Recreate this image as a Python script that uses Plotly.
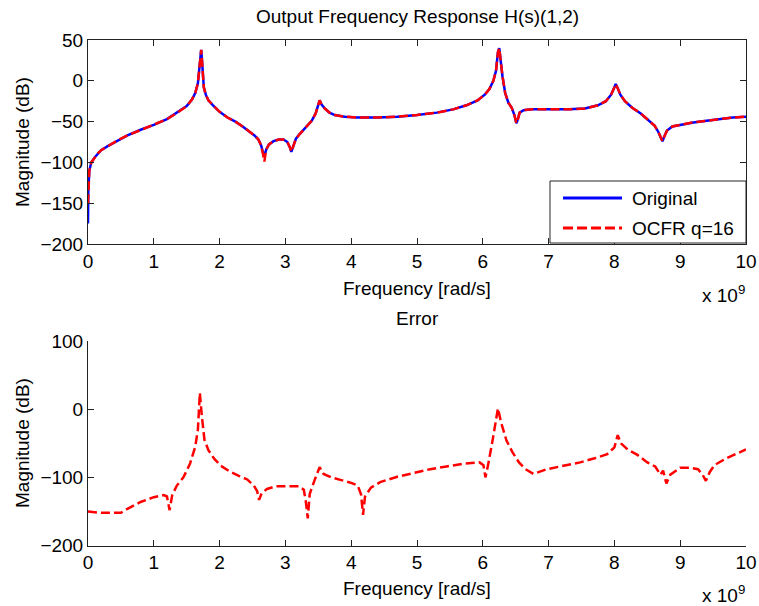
import plotly.graph_objects as go

W, H = 759, 606
FONT = "Liberation Sans, Arial, sans-serif"
FS = 19

# ---- data (frequency in units of 1e9 rad/s, magnitude in dB) ----
freq = [0.0, 0.005, 0.02, 0.05, 0.1, 0.15, 0.2, 0.3, 0.45, 0.6, 0.8, 1.0, 1.2, 1.36, 1.5,
        1.58, 1.63, 1.67, 1.695, 1.71, 1.72, 1.73, 1.745, 1.76, 1.79, 1.83, 1.9, 2.0, 2.12,
        2.24, 2.35, 2.45, 2.53, 2.59, 2.63, 2.66, 2.68, 2.71, 2.75, 2.82, 2.9, 2.97, 3.03,
        3.07, 3.09, 3.12, 3.16, 3.22, 3.31, 3.4, 3.46, 3.5, 3.52, 3.55, 3.6, 3.67, 3.75,
        3.9, 4.1, 4.4, 4.7, 5.0, 5.3, 5.55, 5.75, 5.92, 6.03, 6.1, 6.16, 6.2, 6.23, 6.25,
        6.27, 6.3, 6.34, 6.39, 6.44, 6.48, 6.51, 6.53, 6.56, 6.62, 6.75, 7.0, 7.3, 7.55,
        7.75, 7.87, 7.95, 8.0, 8.02, 8.05, 8.09, 8.16, 8.27, 8.4, 8.52, 8.61, 8.67, 8.71,
        8.73, 8.76, 8.8, 8.88, 9.0, 9.2, 9.4, 9.6, 9.8, 10.0]

original_db = [-175, -135, -110, -100, -94, -89, -85, -80, -73, -67, -60, -54, -47, -39, -31,
               -23, -15, -3, 15, 33, 38, 28, 5, -8, -17, -24, -30, -38, -45,
               -50, -56, -62, -67, -72, -79, -88, -92, -84, -78, -74, -72, -72, -75,
               -82, -87, -80, -71, -65, -57, -49, -40, -28, -24, -29, -34, -39, -42,
               -44, -45, -45, -44, -42, -39, -35, -30, -24, -17, -10, 0, 12, 35, 40,
               25, 5, -15, -27, -33, -42, -52, -48, -39, -36, -35, -35, -35, -34,
               -30, -25, -17, -8, -4, -9, -17, -25, -33, -40, -48, -55, -63, -70,
               -74, -68, -61, -56, -54, -51, -49, -47, -45, -44]

ocfr_db = [-150, -128, -110, -100, -94, -89, -85, -80, -73, -67, -60, -54, -47, -39, -31,
           -23, -15, -3, 15, 33, 38, 28, 5, -8, -17, -24, -30, -38, -45,
           -50, -56, -62, -67, -72, -79, -90, -99, -84, -78, -74, -72, -72, -75,
           -82, -87, -80, -71, -65, -57, -49, -40, -28, -24, -29, -34, -39, -42,
           -44, -45, -45, -44, -42, -39, -35, -30, -24, -17, -10, 0, 12, 35, 40,
           25, 5, -15, -27, -33, -42, -52, -48, -39, -36, -35, -35, -35, -34,
           -30, -25, -17, -8, -4, -9, -17, -25, -33, -40, -48, -55, -63, -70,
           -74, -68, -61, -56, -54, -51, -49, -47, -45, -44]

err_freq = [0.0, 0.2, 0.5, 0.6, 0.8, 1.0, 1.15, 1.2, 1.24, 1.28, 1.35, 1.45, 1.55, 1.63,
            1.67, 1.7, 1.73, 1.77, 1.83, 1.92, 2.02, 2.15, 2.3, 2.42, 2.52, 2.57, 2.6, 2.64,
            2.72, 2.85, 3.0, 3.2, 3.28, 3.31, 3.34, 3.37, 3.44, 3.52, 3.58, 3.7, 3.85, 4.0,
            4.1, 4.15, 4.18, 4.21, 4.3, 4.44, 4.7, 4.95, 5.2, 5.45, 5.7, 5.95, 6.01, 6.04,
            6.08, 6.15, 6.2, 6.23, 6.28, 6.36, 6.45, 6.55, 6.65, 6.77, 6.97, 7.2, 7.48, 7.7,
            7.89, 8.0, 8.05, 8.1, 8.2, 8.35, 8.5, 8.62, 8.7, 8.74, 8.79, 8.85, 9.0, 9.15,
            9.27, 9.34, 9.39, 9.45, 9.52, 9.7, 9.85, 10.0]

err_db = [-150, -152, -152, -146, -136, -129, -126, -128, -148, -126, -112, -100, -80, -55,
          -30, 24, -10, -45, -60, -73, -83, -91, -98, -103, -112, -120, -133, -123,
          -117, -113, -113, -113, -118, -135, -160, -124, -105, -85, -95, -100, -104, -108,
          -112, -125, -155, -128, -115, -107, -99, -93, -88, -84, -80, -78, -82, -100,
          -82, -45, -15, 1, -20, -46, -63, -78, -88, -95, -88, -83, -78, -72,
          -66, -56, -38, -50, -59, -67, -78, -84, -96, -90, -109, -96, -86, -86,
          -88, -96, -105, -92, -82, -72, -65, -59]

top_ticks = [50, 0, -50, -100, -150, -200]
bottom_ticks = [100, 0, -100, -200]
x_ticks = list(range(0, 11))


def px(x):
    return x / W


def py(y):
    return 1 - y / H


BLUE = "#0000FF"
RED = "#FF0000"
AXC = "#222222"
DASH = "9px,4px"

fig = go.Figure()
fig.add_trace(go.Scatter(x=freq, y=original_db, mode="lines",
                         line=dict(color=BLUE, width=2.5), xaxis="x", yaxis="y",
                         showlegend=False))
fig.add_trace(go.Scatter(x=freq, y=ocfr_db, mode="lines",
                         line=dict(color=RED, width=2.5, dash=DASH), xaxis="x", yaxis="y",
                         showlegend=False))
fig.add_trace(go.Scatter(x=err_freq, y=err_db, mode="lines",
                         line=dict(color=RED, width=2.5, dash=DASH), xaxis="x2", yaxis="y2",
                         showlegend=False))

x_dom = [px(88), px(746)]
axis_common = dict(showgrid=False, zeroline=False, ticks="inside", ticklen=6,
                   tickcolor=AXC, linecolor=AXC, linewidth=1, showline=True,
                   automargin=False,
                   tickfont=dict(family=FONT, size=FS, color="black"))

fig.update_layout(
    width=W, height=H,
    margin=dict(l=0, r=0, t=0, b=0),
    paper_bgcolor="white", plot_bgcolor="white",
    showlegend=False,
    xaxis=dict(domain=x_dom, range=[0, 10], tickvals=x_ticks, anchor="y",
               mirror="ticks", **axis_common),
    yaxis=dict(domain=[py(244), py(40)], range=[-200, 50], tickvals=top_ticks, anchor="x",
               mirror="ticks", **axis_common),
    xaxis2=dict(domain=x_dom, range=[0, 10], tickvals=x_ticks, anchor="y2", **axis_common),
    yaxis2=dict(domain=[py(545.6), py(341)], range=[-200, 100], tickvals=bottom_ticks,
                anchor="x2", **axis_common),
)

txt = dict(family=FONT, size=FS, color="black")
annotations = [
    dict(text="Output Frequency Response H(s)(1,2)", x=px(417), y=py(17),
         xanchor="center", yanchor="middle"),
    dict(text="Error", x=px(417), y=py(318), xanchor="center", yanchor="middle"),
    dict(text="Frequency [rad/s]", x=px(417), y=py(288), xanchor="center", yanchor="middle"),
    dict(text="Frequency [rad/s]", x=px(417), y=py(588), xanchor="center", yanchor="middle"),
    dict(text="Magnitude (dB)", x=px(22), y=py(142), xanchor="center", yanchor="middle",
         textangle=-90),
    dict(text="Magnitude (dB)", x=px(22), y=py(443), xanchor="center", yanchor="middle",
         textangle=-90),
    dict(text="x 10<sup>9</sup>", x=px(747), y=py(294), xanchor="right", yanchor="middle"),
    dict(text="x 10<sup>9</sup>", x=px(747), y=py(594), xanchor="right", yanchor="middle"),
    dict(text="Original", x=px(630), y=py(198), xanchor="left", yanchor="middle"),
    dict(text="OCFR q=16", x=px(630), y=py(228), xanchor="left", yanchor="middle"),
]
for a in annotations:
    a.update(xref="paper", yref="paper", showarrow=False, font=txt)
fig.update_layout(annotations=annotations)

# legend box with line samples
fig.update_layout(shapes=[
    dict(type="rect", xref="paper", yref="paper", x0=px(550), x1=px(746),
         y0=py(243), y1=py(181), line=dict(color=AXC, width=1), fillcolor="white",
         layer="above"),
    dict(type="line", xref="paper", yref="paper", x0=px(563), x1=px(622),
         y0=py(198), y1=py(198), line=dict(color=BLUE, width=3), layer="above"),
    dict(type="line", xref="paper", yref="paper", x0=px(563), x1=px(622),
         y0=py(228), y1=py(228), line=dict(color=RED, width=3, dash="10px,4px"),
         layer="above"),
])

fig.write_html("out.html")
